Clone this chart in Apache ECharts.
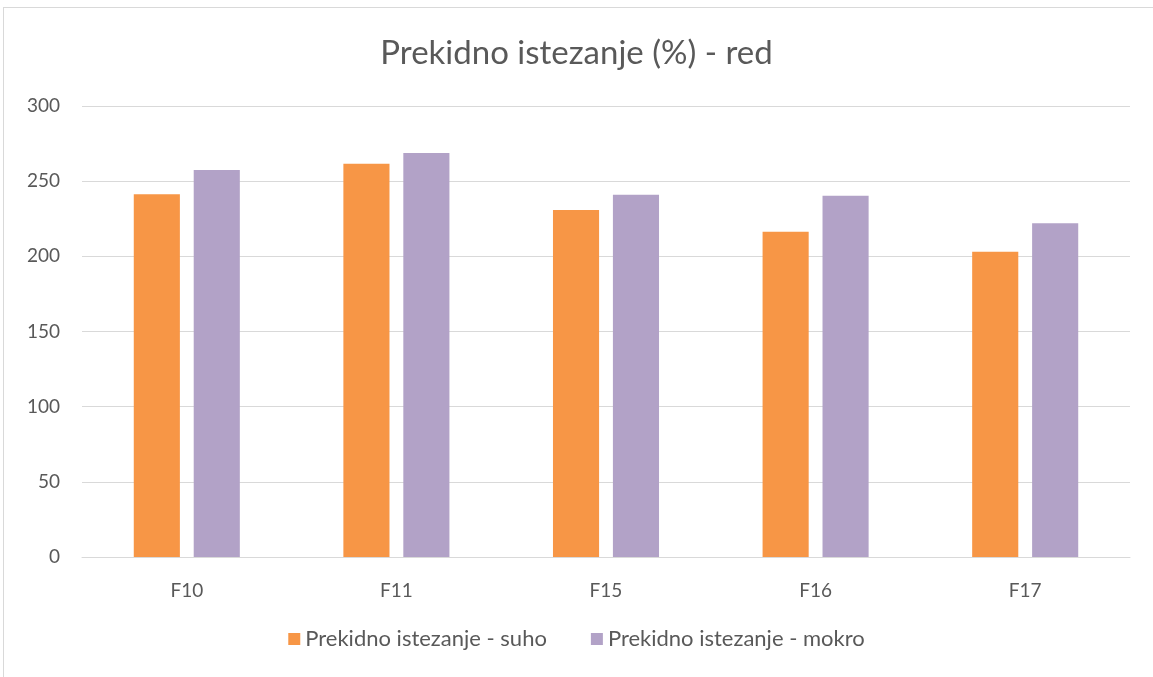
<!DOCTYPE html>
<html>
<head>
<meta charset="utf-8">
<script src="https://cdn.jsdelivr.net/npm/echarts@6/dist/echarts.min.js"></script>
<style>
  html, body { margin: 0; padding: 0; background: #fff; }
  #frame { position: absolute; left: 3px; top: 7px; width: 1160px; height: 690px; border: 1px solid #d9d9d9; box-sizing: border-box; }
  #chart { position: absolute; left: 0; top: 0; width: 1153px; height: 677px; }
</style>
</head>
<body>
<div id="frame"></div>
<div id="chart"></div>
<script>
// podaci
var categories = ['F10', 'F11', 'F15', 'F16', 'F17'];
var suho = [241.3, 261.6, 230.8, 216.4, 203.1];
var mokro = [257.4, 268.7, 241.0, 240.3, 222.0];
var seriesNames = ['Prekidno istezanje - suho', 'Prekidno istezanje - mokro'];

var font = 'Lato';
var txt = '#595959';

var option = {
    animation: false,
    color: ['#F79646', '#B2A2C7'],
    title: {
        text: 'Prekidno istezanje (%) - red',
        left: 'center',
        top: 32,
        textStyle: { fontFamily: font, fontSize: 33, fontWeight: 'normal', color: txt }
    },
    legend: {
        data: seriesNames,
        bottom: 22,
        left: 'center',
        itemWidth: 12,
        itemHeight: 12,
        itemGap: 44,
        icon: 'rect',
        textStyle: { fontFamily: font, fontSize: 22, color: txt }
    },
    grid: { left: 82, right: 23, top: 106, bottom: 120, containLabel: false },
    xAxis: {
        type: 'category',
        data: categories,
        axisLine: { lineStyle: { color: '#d9d9d9' } },
        axisTick: { show: false },
        axisLabel: { fontFamily: font, fontSize: 19, color: txt, margin: 24 }
    },
    yAxis: {
        type: 'value',
        min: 0,
        max: 300,
        interval: 50,
        axisLine: { show: false },
        axisTick: { show: false },
        splitLine: { lineStyle: { color: '#d9d9d9', width: 1 } },
        axisLabel: { fontFamily: font, fontSize: 19, color: txt, margin: 22 }
    },
    series: [{
        name: seriesNames[0],
        type: 'bar',
        data: suho,
        barWidth: '22%',
        barGap: '30%',
        barCategoryGap: '49%'
    }, {
        name: seriesNames[1],
        type: 'bar',
        data: mokro,
        barWidth: '22%',
        barGap: '30%',
        barCategoryGap: '49%'
    }]
};

var myChart = echarts.init(document.getElementById('chart'));
myChart.setOption(option);
</script>
</body>
</html>
